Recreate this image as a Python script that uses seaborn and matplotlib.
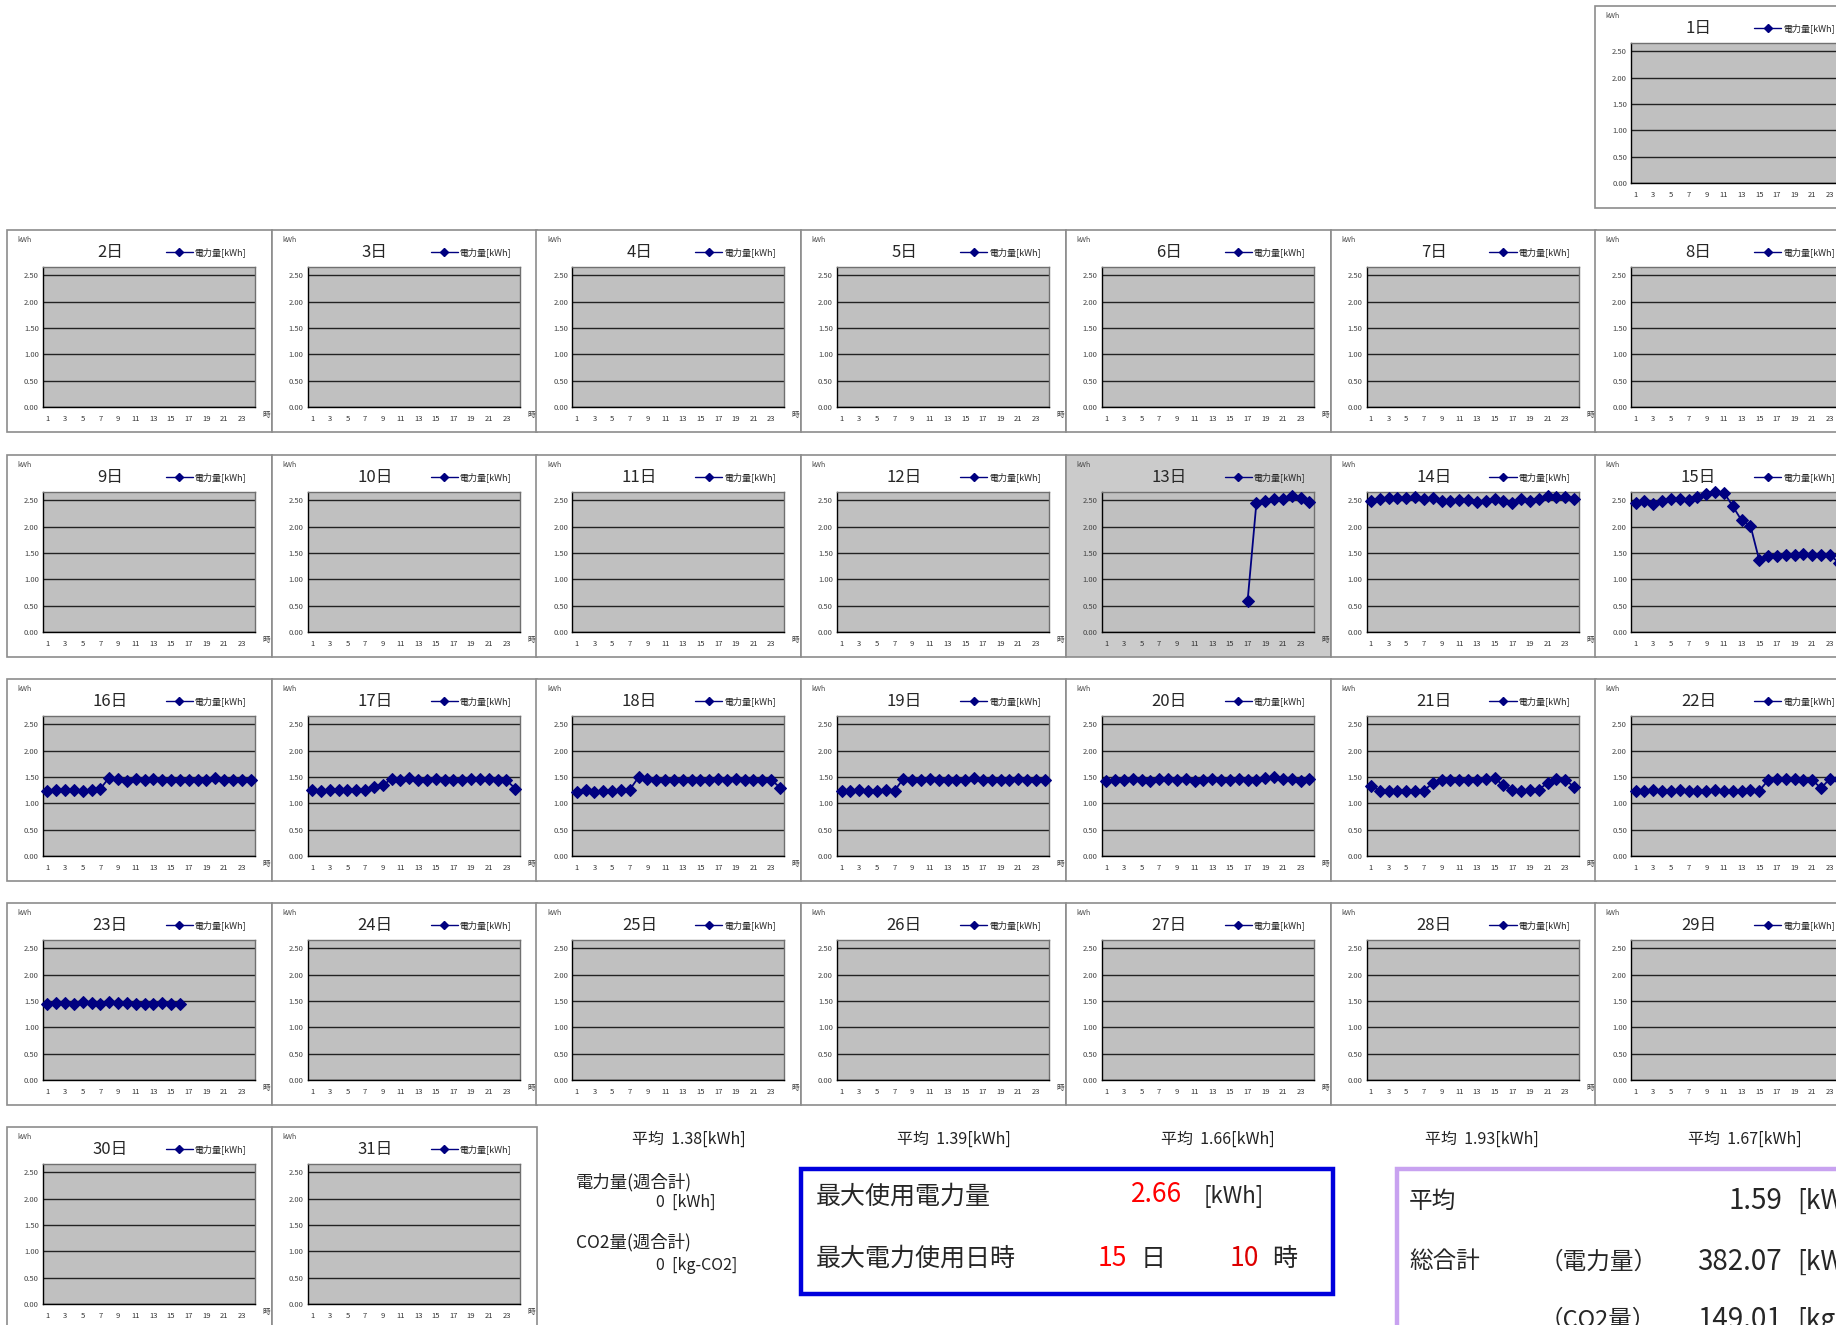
import numpy as np
import pandas as pd
import matplotlib
matplotlib.use('Agg')
import matplotlib.pyplot as plt
from matplotlib.patches import Rectangle
from matplotlib.lines import Line2D
import seaborn as sns

sns.set_style('white')
plt.rcParams['font.family'] = ['Noto Sans CJK JP', 'DejaVu Sans']

# hourly usage [kWh], hour 1..24 (nan = no reading)
hours = list(range(1, 25))
nan = np.nan

day13 = [nan] * 16 + [0.58, 2.45, 2.48, 2.52, 2.53, 2.58, 2.54, 2.47]
day14 = [2.48, 2.53, 2.54, 2.54, 2.54, 2.56, 2.53, 2.54, 2.49, 2.48, 2.50, 2.51,
         2.47, 2.48, 2.53, 2.48, 2.46, 2.53, 2.48, 2.53, 2.58, 2.57, 2.57, 2.52]
day15 = [2.45, 2.48, 2.43, 2.49, 2.52, 2.53, 2.50, 2.56, 2.63, 2.66, 2.65, 2.39,
         2.12, 2.02, 1.36, 1.45, 1.45, 1.46, 1.46, 1.48, 1.46, 1.46, 1.46, 1.32]
day16 = [1.24, 1.25, 1.25, 1.25, 1.24, 1.25, 1.28, 1.49, 1.46, 1.43, 1.47, 1.44,
         1.46, 1.44, 1.44, 1.44, 1.45, 1.45, 1.44, 1.48, 1.45, 1.45, 1.45, 1.45]
day17 = [1.26, 1.23, 1.25, 1.25, 1.25, 1.26, 1.26, 1.31, 1.34, 1.47, 1.44, 1.49,
         1.44, 1.45, 1.47, 1.44, 1.45, 1.45, 1.47, 1.47, 1.47, 1.44, 1.44, 1.28]
day18 = [1.22, 1.25, 1.21, 1.24, 1.24, 1.25, 1.26, 1.50, 1.46, 1.44, 1.44, 1.45,
         1.44, 1.45, 1.44, 1.45, 1.47, 1.44, 1.47, 1.45, 1.45, 1.45, 1.45, 1.30]
day19 = [1.24, 1.24, 1.25, 1.24, 1.24, 1.25, 1.24, 1.47, 1.45, 1.44, 1.46, 1.45,
         1.45, 1.44, 1.45, 1.48, 1.45, 1.44, 1.45, 1.45, 1.47, 1.45, 1.45, 1.45]
day20 = [1.43, 1.45, 1.45, 1.47, 1.45, 1.43, 1.47, 1.47, 1.44, 1.47, 1.43, 1.44,
         1.46, 1.45, 1.45, 1.47, 1.45, 1.44, 1.48, 1.50, 1.46, 1.46, 1.43, 1.46]
day21 = [1.33, 1.24, 1.24, 1.24, 1.24, 1.24, 1.24, 1.39, 1.45, 1.45, 1.45, 1.45,
         1.45, 1.46, 1.48, 1.34, 1.25, 1.24, 1.25, 1.26, 1.39, 1.47, 1.45, 1.31]
day22 = [1.24, 1.24, 1.25, 1.24, 1.24, 1.25, 1.24, 1.24, 1.24, 1.25, 1.24, 1.24,
         1.24, 1.25, 1.24, 1.44, 1.46, 1.47, 1.47, 1.45, 1.44, 1.29, 1.47, 1.47]
day23 = [1.44, 1.46, 1.46, 1.44, 1.48, 1.46, 1.45, 1.48, 1.46, 1.46, 1.45, 1.45,
         1.45, 1.46, 1.45, 1.45] + [nan] * 8

usage = {13: day13, 14: day14, 15: day15, 16: day16, 17: day17, 18: day18,
         19: day19, 20: day20, 21: day21, 22: day22, 23: day23}

week_avg = [1.38, 1.39, 1.66, 1.93, 1.67]
ytick_vals = [0, 0.5, 1.0, 1.5, 2.0, 2.5]
ytick_labels = ['0.00', '0.50', '1.00', '1.50', '2.00', '2.50']
xtick_vals = list(range(1, 24, 2))

W, H = 1836, 1325
fig = plt.figure(figsize=(W / 100, H / 100), dpi=100)


def fig_rect(x, y, w, h):
    return [x / W, 1 - (y + h) / H, w / W, h / H]


def ftext(x, y, s, **kw):
    kw.setdefault('va', 'center')
    fig.text(x / W, 1 - y / H, s, **kw)


col_x = [7 + 264.7 * c for c in range(7)]
row_y = [6, 230, 455, 679, 903, 1127]
PW, PH = 265, 202

navy = '#000080'

for d in range(1, 32):
    if d == 1:
        row, col = 0, 6
    else:
        row, col = 1 + (d - 2) // 7, (d - 2) % 7
    px, py = col_x[col], row_y[row]
    bg = '#cbcbcb' if d == 13 else 'white'
    fig.add_artist(Rectangle((px / W, 1 - (py + PH) / H), PW / W, PH / H,
                             transform=fig.transFigure, facecolor=bg,
                             edgecolor='#8c8c8c', lw=1.2, zorder=0))

    ax = fig.add_axes(fig_rect(px + 36, py + 37, 212, 140))
    ax.set_facecolor('#c0c0c0')

    if d in usage:
        df = pd.DataFrame({'hour': hours, 'kwh': usage[d]}).dropna()
        sns.lineplot(data=df, x='hour', y='kwh', ax=ax, color=navy, marker='D',
                     markersize=6.5, markeredgecolor=navy, linewidth=1.3,
                     legend=False, clip_on=False, zorder=3)

    ax.set_xlim(0.5, 24.5)
    ax.set_ylim(0, 2.66)
    ax.set_yticks(ytick_vals)
    ax.set_yticklabels(ytick_labels)
    ax.set_xticks(xtick_vals)
    ax.set_xticks(np.arange(0.5, 25, 1), minor=True)
    ax.yaxis.grid(True, color='#222222', lw=1.0)
    ax.set_axisbelow(True)
    ax.set_xlabel('')
    ax.set_ylabel('')
    ax.tick_params(axis='y', length=0, labelsize=5.5, pad=3, labelcolor='#444444')
    ax.tick_params(axis='x', which='major', length=0, labelsize=5.5, pad=6,
                   labelcolor='#333333')
    ax.tick_params(axis='x', which='minor', direction='in', length=2.5,
                   width=0.8, color='black')
    for side in ['left', 'bottom']:
        ax.spines[side].set_color('black')
        ax.spines[side].set_linewidth(1.0)
    for side in ['top', 'right']:
        ax.spines[side].set_color('#707070')
        ax.spines[side].set_linewidth(1.0)

    ax.text(-0.12, 1.19, 'kWh', transform=ax.transAxes, fontsize=5,
            color='#444444', va='center')
    ax.text(0.317, 1.107, f'{d}日', transform=ax.transAxes, fontsize=12,
            ha='center', va='center')
    if col < 6:
        ax.text(1.035, -0.055, '時', transform=ax.transAxes, fontsize=5.5,
                color='#333333', va='center')
    handle = Line2D([0], [0], color=navy, marker='D', markersize=3.8, lw=1)
    ax.legend(handles=[handle], labels=['電力量[kWh]'], loc='center',
              bbox_to_anchor=(0.77, 1.107), frameon=False, fontsize=6.5,
              handlelength=3.0, handletextpad=0.2, borderaxespad=0,
              borderpad=0)

# weekly averages under columns 3..7
avg_x = [689, 954, 1218, 1482, 1745]
for x, v in zip(avg_x, week_avg):
    ftext(x, 1139, f'平均  {v:.2f}[kWh]', ha='center', fontsize=11.5,
          color='#222222')

ftext(576, 1182, '電力量(週合計)', fontsize=12.5, color='#222222')
ftext(656, 1202, '0  [kWh]', fontsize=11.5, color='#222222')
ftext(576, 1242, 'CO2量(週合計)', fontsize=12.5, color='#222222')
ftext(656, 1265, '0  [kg-CO2]', fontsize=11.5, color='#222222')

# max usage box
fig.add_artist(Rectangle((801 / W, 1 - 1294 / H), 532 / W, 125 / H,
                         transform=fig.transFigure, fill=False,
                         edgecolor='#0000dd', lw=3.2))
ftext(816, 1197, '最大使用電力量', fontsize=18)
ftext(1157, 1195, '2.66', ha='center', fontsize=19, color='#ff0000')
ftext(1204, 1197, '[kWh]', fontsize=16)
ftext(816, 1259, '最大電力使用日時', fontsize=18)
ftext(1112, 1258, '15', ha='center', fontsize=19, color='#ff0000')
ftext(1153, 1259, '日', ha='center', fontsize=18)
ftext(1244, 1258, '10', ha='center', fontsize=19, color='#dd0000')
ftext(1285, 1259, '時', ha='center', fontsize=18)

# monthly totals box
fig.add_artist(Rectangle((1397 / W, 1 - 1400 / H), 500 / W, 231 / H,
                         transform=fig.transFigure, fill=False,
                         edgecolor='#c8a2f0', lw=3.2))
ftext(1409, 1201, '平均', fontsize=17)
ftext(1782, 1201, '1.59', ha='right', fontsize=20)
ftext(1797, 1201, '[kWh]', fontsize=19)
ftext(1409, 1262, '総合計', fontsize=17)
ftext(1540, 1262, '（電力量）', fontsize=17)
ftext(1782, 1262, '382.07', ha='right', fontsize=20)
ftext(1797, 1262, '[kWh]', fontsize=19)
ftext(1540, 1320, '（CO2量）', fontsize=17)
ftext(1782, 1320, '149.01', ha='right', fontsize=20)
ftext(1797, 1320, '[kg-CO2]', fontsize=19)

fig.savefig('out.png', dpi=100)
